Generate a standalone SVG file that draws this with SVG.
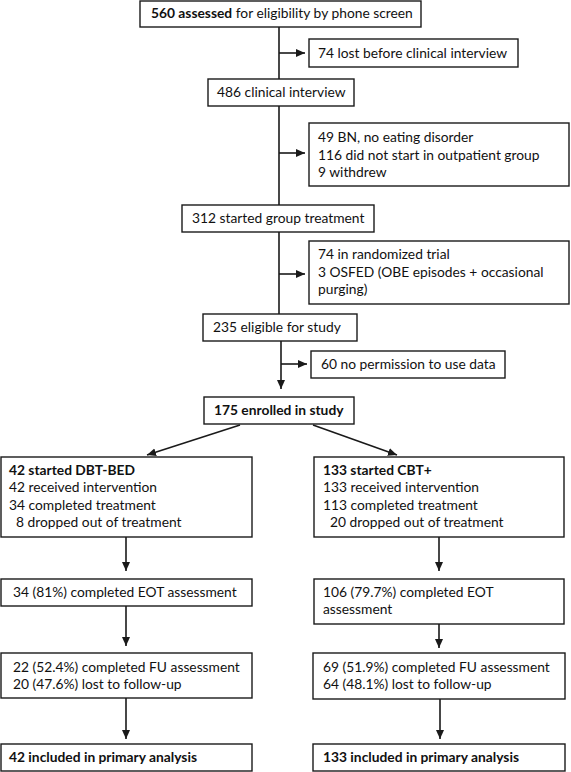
<svg xmlns="http://www.w3.org/2000/svg" width="571" height="772" viewBox="0 0 571 772">
<style>
.box{fill:#fff;stroke:#1a1a1a;stroke-width:1.4}
.t{font-family:Lato,"Liberation Sans",sans-serif;font-size:13.8px;fill:#111}
.b{font-weight:bold}
.c{stroke:#1a1a1a;stroke-width:1.6;fill:none}
</style>
<defs>
<marker id="ah" markerUnits="userSpaceOnUse" markerWidth="10" markerHeight="10" viewBox="0 0 10 10" refX="9" refY="5" orient="auto">
<path d="M0,1 L9,5 L0,9 Z" fill="#1a1a1a"/>
</marker>
</defs>
<g id="connectors">
<line class="c" x1="279" y1="27" x2="279" y2="79"/>
<line class="c" x1="279" y1="106" x2="279" y2="205"/>
<line class="c" x1="279" y1="232" x2="279" y2="314"/>
<line class="c" x1="281" y1="341" x2="281" y2="389" marker-end="url(#ah)"/>
<line class="c" x1="279" y1="53" x2="305" y2="53" marker-end="url(#ah)"/>
<line class="c" x1="279" y1="153" x2="305" y2="153" marker-end="url(#ah)"/>
<line class="c" x1="279" y1="274" x2="305" y2="274" marker-end="url(#ah)"/>
<line class="c" x1="281" y1="364" x2="307" y2="364" marker-end="url(#ah)"/>
<line class="c" x1="240" y1="425" x2="147" y2="455" marker-end="url(#ah)"/>
<line class="c" x1="313" y1="425" x2="397" y2="455" marker-end="url(#ah)"/>
<line class="c" x1="126" y1="537" x2="126" y2="571" marker-end="url(#ah)"/>
<line class="c" x1="439" y1="537" x2="439" y2="571" marker-end="url(#ah)"/>
<line class="c" x1="126" y1="606" x2="126" y2="646" marker-end="url(#ah)"/>
<line class="c" x1="439" y1="624" x2="439" y2="648" marker-end="url(#ah)"/>
<line class="c" x1="126" y1="698" x2="126" y2="739" marker-end="url(#ah)"/>
<line class="c" x1="440" y1="699" x2="440" y2="739" marker-end="url(#ah)"/>
</g>
<g id="n1"><rect class="box" x="140" y="1" width="281" height="26"/><text class="t" x="151" y="18"><tspan class="b">560 assessed</tspan> for eligibility by phone screen</text></g>
<g id="x1"><rect class="box" x="309" y="39" width="209" height="28"/><text class="t" x="318" y="58">74 lost before clinical interview</text></g>
<g id="n2"><rect class="box" x="208" y="79" width="146" height="27"/><text class="t" x="217" y="97">486 clinical interview</text></g>
<g id="x2"><rect class="box" x="309" y="123" width="260" height="63"/><text class="t" x="318" y="142">49 BN, no eating disorder</text><text class="t" x="318" y="159.5">116 did not start in outpatient group</text><text class="t" x="318" y="177">9 withdrew</text></g>
<g id="n3"><rect class="box" x="182" y="205" width="192" height="27"/><text class="t" x="192" y="223">312 started group treatment</text></g>
<g id="x3"><rect class="box" x="309" y="241" width="260" height="63"/><text class="t" x="318" y="259">74 in randomized trial</text><text class="t" x="318" y="277">3 OSFED (OBE episodes + occasional</text><text class="t" x="318" y="294">purging)</text></g>
<g id="n4"><rect class="box" x="203" y="314" width="154" height="27"/><text class="t" x="213" y="332">235 eligible for study</text></g>
<g id="x4"><rect class="box" x="311" y="351" width="194" height="27"/><text class="t" x="321" y="369">60 no permission to use data</text></g>
<g id="n5"><rect class="box" x="204" y="397" width="150" height="27"/><text class="t b" x="214" y="415">175 enrolled in study</text></g>
<g id="l1"><rect class="box" x="1" y="457" width="251" height="80"/><text class="t" x="9" y="475"><tspan class="b">42 started DBT-BED</tspan></text><text class="t" x="9" y="492">42 received intervention</text><text class="t" x="9" y="509.5">34 completed treatment</text><text class="t" x="16" y="527">8 dropped out of treatment</text></g>
<g id="r1"><rect class="box" x="314" y="457" width="250" height="80"/><text class="t" x="323" y="475"><tspan class="b">133 started CBT+</tspan></text><text class="t" x="323" y="492">133 received intervention</text><text class="t" x="323" y="509.5">113 completed treatment</text><text class="t" x="330" y="527">20 dropped out of treatment</text></g>
<g id="l2"><rect class="box" x="1" y="579" width="251" height="27"/><text class="t" x="13" y="597">34 (81%) completed EOT assessment</text></g>
<g id="r2"><rect class="box" x="314" y="579" width="250" height="45"/><text class="t" x="323" y="597">106 (79.7%) completed EOT</text><text class="t" x="323" y="614">assessment</text></g>
<g id="l3"><rect class="box" x="1" y="653" width="251" height="45"/><text class="t" x="13" y="672">22 (52.4%) completed FU assessment</text><text class="t" x="13" y="689">20 (47.6%) lost to follow-up</text></g>
<g id="r3"><rect class="box" x="313" y="653" width="252" height="46"/><text class="t" x="323" y="672">69 (51.9%) completed FU assessment</text><text class="t" x="323" y="689">64 (48.1%) lost to follow-up</text></g>
<g id="l4"><rect class="box" x="1" y="744" width="251" height="27"/><text class="t b" x="9" y="762">42 included in primary analysis</text></g>
<g id="r4"><rect class="box" x="313" y="744" width="252" height="27"/><text class="t b" x="323" y="762">133 included in primary analysis</text></g>
</svg>
